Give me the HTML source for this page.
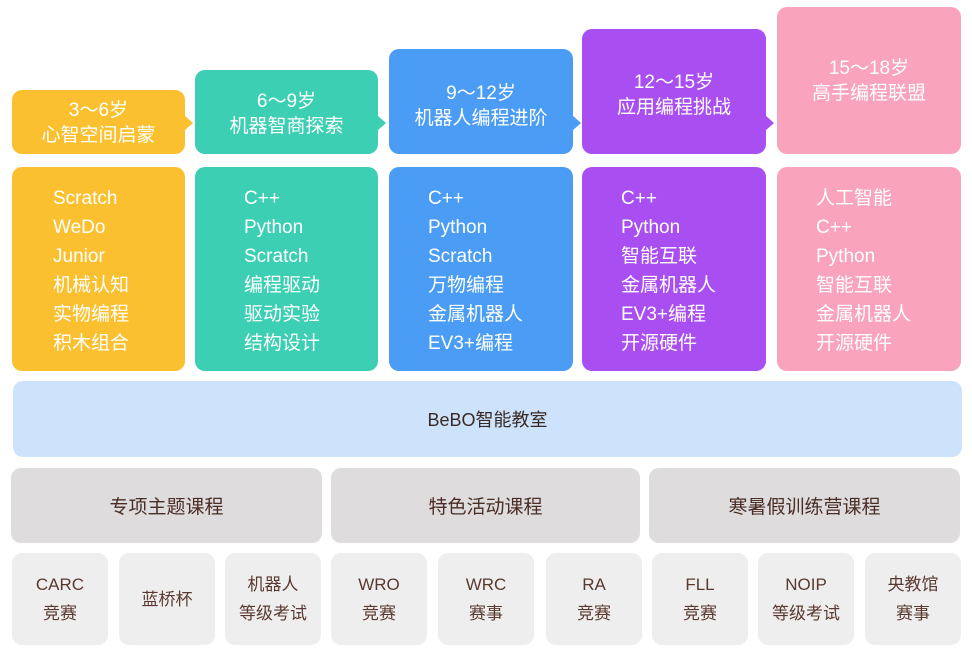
<!DOCTYPE html>
<html><head><meta charset="utf-8"><style>
*{margin:0;padding:0;box-sizing:border-box}
body{width:972px;height:654px;background:#fff;position:relative;overflow:hidden;font-family:"Liberation Sans","Noto Sans CJK SC",sans-serif}
.b{position:absolute;border-radius:10px}
.h{color:#fff;font-size:19px;line-height:25px;text-align:center;display:flex;flex-direction:column;justify-content:center;padding-top:4px}
.ar{position:absolute;width:0;height:0;border-top:8px solid transparent;border-bottom:8px solid transparent;border-left:9px solid}
.t{position:absolute;color:#fff;font-size:19px;line-height:29px;top:184px}
.g{background:#dedcdc;color:#4a2e26;font-size:19px;display:flex;align-items:center;justify-content:center;top:468px;height:75px}
.s{background:#efeeee;color:#5a3a30;font-size:17px;line-height:29px;top:553px;height:92px;width:96px;display:flex;align-items:center;justify-content:center;text-align:center}
</style></head><body>
<div class="b h" style="left:12px;top:90px;width:173px;height:64px;background:#fbc02f;padding-top:1px">3～6岁<br>心智空间启蒙</div>
<div class="ar" style="left:184px;top:115px;border-left-color:#fbc02f"></div>
<div class="b h" style="left:195px;top:70px;width:183px;height:84px;background:#3ccfb3">6～9岁<br>机器智商探索</div>
<div class="ar" style="left:377px;top:115px;border-left-color:#3ccfb3"></div>
<div class="b h" style="left:389px;top:49px;width:184px;height:105px;background:#4a9cf5;padding-top:8px">9～12岁<br>机器人编程进阶</div>
<div class="ar" style="left:572px;top:115px;border-left-color:#4a9cf5"></div>
<div class="b h" style="left:582px;top:29px;width:184px;height:125px;background:#a94ff2;padding-top:7px">12～15岁<br>应用编程挑战</div>
<div class="ar" style="left:765px;top:115px;border-left-color:#a94ff2"></div>
<div class="b h" style="left:777px;top:7px;width:184px;height:147px;background:#f9a3bd;padding-top:0">15～18岁<br>高手编程联盟</div>

<div class="b" style="left:12px;top:167px;width:173px;height:204px;background:#fbc02f"></div>
<div class="b" style="left:195px;top:167px;width:183px;height:204px;background:#3ccfb3"></div>
<div class="b" style="left:389px;top:167px;width:184px;height:204px;background:#4a9cf5"></div>
<div class="b" style="left:582px;top:167px;width:184px;height:204px;background:#a94ff2"></div>
<div class="b" style="left:777px;top:167px;width:184px;height:204px;background:#f9a3bd"></div>
<div class="t" style="left:53px">Scratch<br>WeDo<br>Junior<br>机械认知<br>实物编程<br>积木组合</div>
<div class="t" style="left:244px">C++<br>Python<br>Scratch<br>编程驱动<br>驱动实验<br>结构设计</div>
<div class="t" style="left:428px">C++<br>Python<br>Scratch<br>万物编程<br>金属机器人<br>EV3+编程</div>
<div class="t" style="left:621px">C++<br>Python<br>智能互联<br>金属机器人<br>EV3+编程<br>开源硬件</div>
<div class="t" style="left:816px">人工智能<br>C++<br>Python<br>智能互联<br>金属机器人<br>开源硬件</div>

<div class="b" style="left:13px;top:381px;width:949px;height:76px;background:#cde3fb;color:#3a2a26;font-size:18px;display:flex;align-items:center;justify-content:center">BeBO智能教室</div>

<div class="b g" style="left:11px;width:311px">专项主题课程</div>
<div class="b g" style="left:331px;width:309px">特色活动课程</div>
<div class="b g" style="left:649px;width:311px">寒暑假训练营课程</div>

<div class="b s" style="left:12px">CARC<br>竞赛</div>
<div class="b s" style="left:119px">蓝桥杯</div>
<div class="b s" style="left:225px">机器人<br>等级考试</div>
<div class="b s" style="left:331px">WRO<br>竞赛</div>
<div class="b s" style="left:438px">WRC<br>赛事</div>
<div class="b s" style="left:546px">RA<br>竞赛</div>
<div class="b s" style="left:652px">FLL<br>竞赛</div>
<div class="b s" style="left:758px">NOIP<br>等级考试</div>
<div class="b s" style="left:865px">央教馆<br>赛事</div>
</body></html>
